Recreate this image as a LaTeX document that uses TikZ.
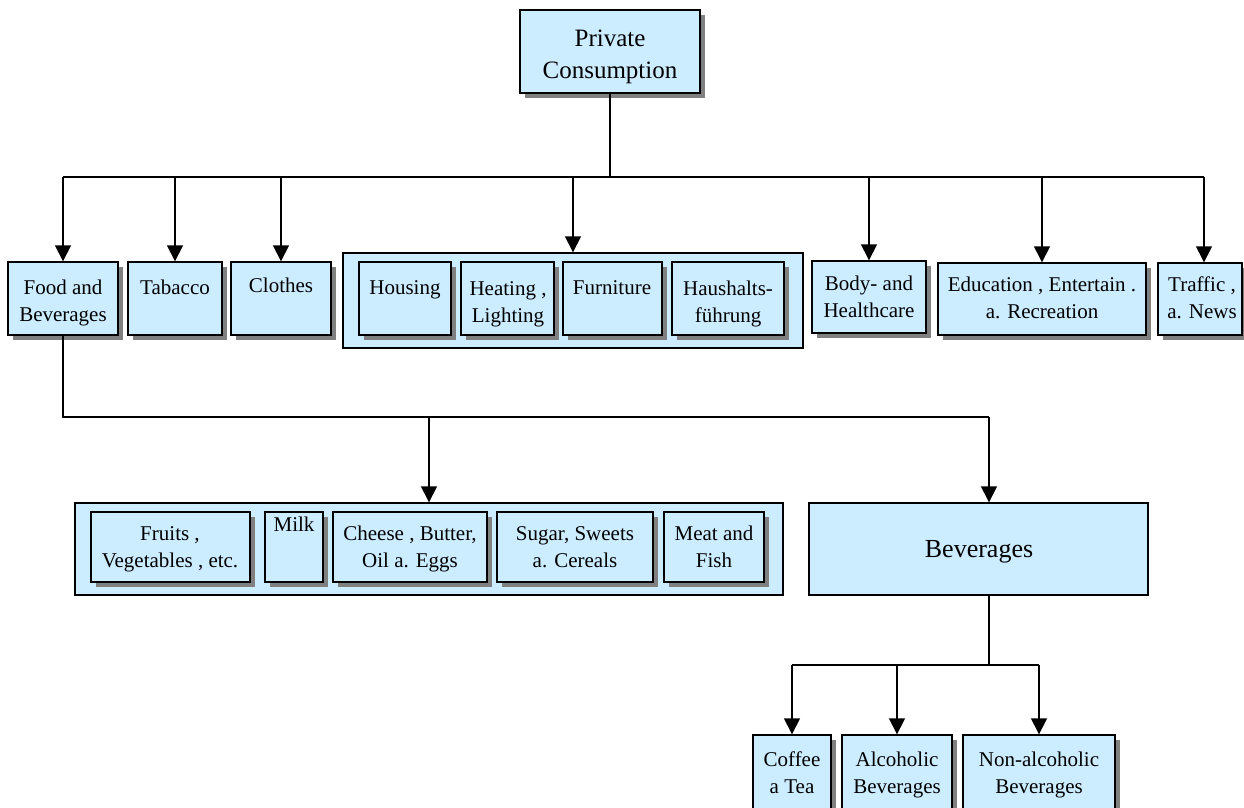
\documentclass[tikz,border=0pt]{standalone}
\usepackage{fontspec}
\setmainfont{Liberation Serif}
\usetikzlibrary{arrows.meta,fit,shadows}
\definecolor{boxblue}{RGB}{204,236,255}
\definecolor{shade}{RGB}{128,128,128}
\begin{document}
\begin{tikzpicture}[x=1pt,y=-1pt,
  box/.style={draw=black, line width=1.4pt, fill=boxblue, inner sep=0pt, fit={#1}},
  sbox/.style={box={#1}, drop shadow={shadow xshift=5pt, shadow yshift=-5pt, fill=shade, opacity=1}},
  txt/.style={font=\fontsize{21}{27}\selectfont, align=center, inner sep=0pt, anchor=base},
  bigtxt/.style={font=\fontsize{25}{32}\selectfont, align=center, inner sep=0pt, anchor=base},
  link/.style={draw=black, line width=1.5pt},
  arr/.style={link, -{Triangle[length=16pt,width=16pt]}}
]
\useasboundingbox (0,0) rectangle (1244,807);
\clip (0,0) rectangle (1244,807);

% top of the tree (text nodes are placed at the baseline of their last line)
\node[sbox={(520,10)(700,93)}] (top) {};
\node[bigtxt] (top-t) at (610,78) {Private\\Consumption};

% first level
\node[sbox={(8,262)(118,335)}] (food) {};
\node[txt] (food-t) at (63,321) {Food and\\Beverages};
\node[sbox={(128,262)(222,335)}] (tabac) {};
\node[txt] (tabac-t) at (175,294) {Tabacco};
\node[sbox={(231,262)(331,335)}] (cloth) {};
\node[txt] (cloth-t) at (281,292) {Clothes};

\node[box={(343,253)(803,348)}] (house) {};
\node[sbox={(359,262)(451,335)}] (hous) {};
\node[txt] (hous-t) at (405,294) {Housing};
\node[sbox={(461,262)(554,335)}] (heat) {};
\node[txt] (heat-t) at (508,322) {Heating ,\\Lighting};
\node[sbox={(563,262)(662,335)}] (furn) {};
\node[txt] (furn-t) at (612,294) {Furniture};
\node[sbox={(672,262)(784,335)}] (haus) {};
\node[txt] (haus-t) at (728,322) {Haushalts-\\führung};

\node[sbox={(812,261)(926,333)}] (body) {};
\node[txt] (body-t) at (869,317) {Body- and\\Healthcare};
\node[sbox={(938,263)(1146,335)}] (edu) {};
\node[txt] (edu-t) at (1042,318) {Education , Entertain .\\a. Recreation};
\node[sbox={(1158,263)(1242,335)}] (traf) {};
\node[txt] (traf-t) at (1202,318) {Traffic ,\\a. News};

% second level
\node[box={(75,503)(783,595)}] (fgrp) {};
\node[sbox={(91,512)(250,582)}] (fruit) {};
\node[txt] (fruit-t) at (170,567) {Fruits ,\\Vegetables , etc.};
\node[sbox={(265,512)(323,582)}] (milk) {};
\node[txt] (milk-t) at (294,531) {Milk};
\node[sbox={(333,512)(487,582)}] (chee) {};
\node[txt] (chee-t) at (410,567) {Cheese , Butter,\\Oil a. Eggs};
\node[sbox={(497,512)(653,582)}] (sugar) {};
\node[txt] (sugar-t) at (575,567) {Sugar, Sweets\\a. Cereals};
\node[sbox={(664,512)(764,582)}] (meat) {};
\node[txt] (meat-t) at (714,567) {Meat and\\Fish};

\node[box={(809,503)(1148,595)}] (bev) {};
\node[font=\fontsize{26}{32}\selectfont, inner sep=0pt, anchor=base] (bev-t) at (979,557) {Beverages};

% third level
\node[sbox={(753,735)(831,830)}] (cof) {};
\node[txt] (cof-t) at (792,793) {Coffee\\a Tea};
\node[sbox={(842,735)(952,830)}] (alc) {};
\node[txt] (alc-t) at (897,793) {Alcoholic\\Beverages};
\node[sbox={(963,735)(1115,830)}] (nonalc) {};
\node[txt] (nonalc-t) at (1039,793) {Non-alcoholic\\Beverages};

% connectors, level one
\coordinate (busL) at (63,177);
\coordinate (busR) at (1204,177);
\draw[link] (top.south) -- (top.south |- busL);
\draw[link] (busL) -- (busR);
\draw[arr] (busL) -- (food.north);
\draw[arr] (tabac.north |- busL) -- (tabac.north);
\draw[arr] (cloth.north |- busL) -- (cloth.north);
\draw[arr] (house.north |- busL) -- (house.north);
\draw[arr] (body.north |- busL) -- (body.north);
\draw[arr] (edu.north |- busL) -- (edu.north);
\draw[arr] (busR) -- (busR |- traf.north);

% connectors, level two
\coordinate (busA) at (63,417);
\coordinate (busB) at (989,417);
\draw[link] (food.south) -- (busA) -- (busB);
\draw[arr] (fgrp.north |- busA) -- (fgrp.north);
\draw[arr] (busB) -- (busB |- bev.north);

% connectors, level three
\coordinate (busC) at (792,665);
\coordinate (busD) at (1039,665);
\draw[link] (busB |- bev.south) -- (busB |- busC);
\draw[link] (busC) -- (busD);
\draw[arr] (busC) -- (cof.north);
\draw[arr] (alc.north |- busC) -- (alc.north);
\draw[arr] (busD) -- (busD |- nonalc.north);
\end{tikzpicture}
\end{document}
